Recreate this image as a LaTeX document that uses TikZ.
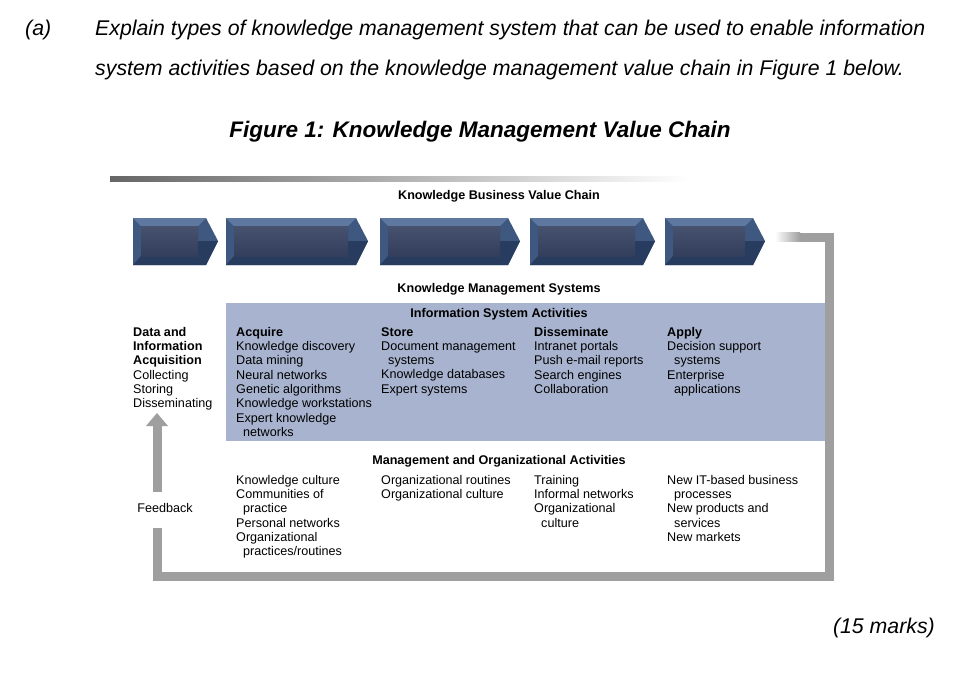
\documentclass[tikz,border=0pt]{standalone}
\usepackage{fontspec}
\setmainfont{Liberation Sans}
\definecolor{chev}{RGB}{62,88,128}
\definecolor{chevd}{RGB}{40,60,95}
\definecolor{chevl}{RGB}{95,120,160}
\definecolor{chevf1}{RGB}{70,82,110}
\definecolor{chevf2}{RGB}{50,62,92}
\definecolor{boxc}{RGB}{168,180,207}
\begin{document}
\begin{tikzpicture}[x=1pt,y=-1pt,
  txt/.style={anchor=north west,inner sep=0pt,font=\fontsize{12.6}{14.3}\selectfont,align=left},
  hdr/.style={inner sep=0pt,font=\fontsize{12.6}{14}\selectfont\bfseries},
  q/.style={anchor=west,inner sep=0pt,font=\fontsize{21.3}{24}\selectfont\itshape},
  fb/.style={draw=gray!75,line width=9pt}]
\useasboundingbox (0,0) rectangle (968,683);
\fill[white] (0,0) rectangle (968,683);
\node[q] (qa) at (25,30) {(a)};
\node[q] (q1) at (95,30) {Explain types of knowledge management system that can be used to enable information};
\node[q] (q2) at (95,70) {system activities based on the knowledge management value chain in Figure 1 below.};
\node[inner sep=0pt,font=\fontsize{22.5}{26}\selectfont\bfseries\itshape] (fig) at (480,132) {Figure 1: Knowledge Management Value Chain};
\node[q,anchor=east] (marks) at (935,628) {(15 marks)};
% top bar
\shade[left color=gray!80!black,right color=white] (110,176) rectangle (690,181);
\node[hdr] (kbvc) at (499,196) {Knowledge Business Value Chain};
% chevrons
\foreach \a/\b/\n in {133/218/c1,226/368/c2,380/520/c3,530/655/c4,665/765/c5}{
  \pgfmathsetmacro\t{\b-12}
  \fill[chev] (\a,218) -- (\t,218) -- (\b,241) -- (\t,265) -- (\a,265) -- cycle;
  \fill[chevl] (\a,218) -- (\t,218) -- (\t-8,226) -- (\a+8,226) -- cycle;
  \fill[chevd] (\a,265) -- (\t,265) -- (\b,241) -- (\t-8,241) -- (\t-8,256) -- (\a+8,256) -- cycle;
  \shade[top color=chevf1,bottom color=chevf2] (\a+8,226) rectangle (\t-8,256);
  \coordinate (\n) at (\b,241);
}
\node[hdr] (kms) at (499,289) {Knowledge Management Systems};
% blue box
\fill[boxc] (226,303) rectangle (833,441);
\node[hdr] (isa) at (499,314) {Information System Activities};
% feedback loop
\coordinate (f2) at (829,237);
\coordinate (f3) at (829,576);
\coordinate (f4) at (157,576);
\coordinate (f5) at (157,528);
\shade[left color=white,right color=gray!75] (775,232.5) rectangle (800,241.5);
\draw[fb] (800,237) -- (f2) -- (f3) -- (f4) -- (f5);
\draw[fb] (157,492) -- (157,425);
\fill[gray!75] (146,426) -- (168,426) -- (157,413) -- cycle;
\node[txt] (left) at (133,327) {\textbf{Data and}\\\textbf{Information}\\\textbf{Acquisition}\\Collecting\\Storing\\Disseminating};
\node[txt,anchor=center] (feed) at (165,508) {Feedback};
\node[txt] (acq) at (236,327) {\textbf{Acquire}\\Knowledge discovery\\Data mining\\Neural networks\\Genetic algorithms\\Knowledge workstations\\Expert knowledge\\\ \ networks};
\node[txt] (sto) at (381,327) {\textbf{Store}\\Document management\\\ \ systems\\Knowledge databases\\Expert systems};
\node[txt] (dis) at (534,327) {\textbf{Disseminate}\\Intranet portals\\Push e-mail reports\\Search engines\\Collaboration};
\node[txt] (app) at (667,327) {\textbf{Apply}\\Decision support\\\ \ systems\\Enterprise\\\ \ applications};
\node[hdr] (moa) at (499,461) {Management and Organizational Activities};
\node[txt] (m1) at (236,475) {Knowledge culture\\Communities of\\\ \ practice\\Personal networks\\Organizational\\\ \ practices/routines};
\node[txt] (m2) at (381,475) {Organizational routines\\Organizational culture};
\node[txt] (m3) at (534,475) {Training\\Informal networks\\Organizational\\\ \ culture};
\node[txt] (m4) at (667,475) {New IT-based business\\\ \ processes\\New products and\\\ \ services\\New markets};
\end{tikzpicture}
\end{document}
